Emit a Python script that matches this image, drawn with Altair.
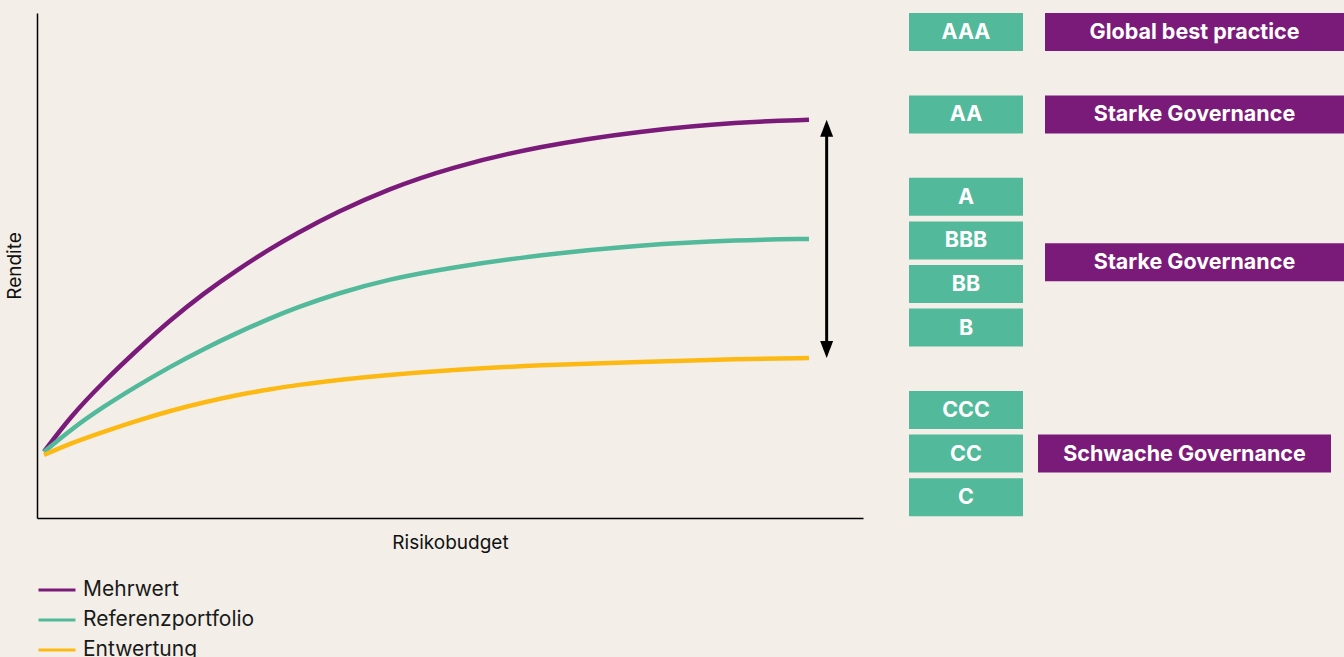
import altair as alt
import pandas as pd

# Risk budget positions (share of the axis, 0-100) at which the curves are sampled
risk = [0.85, 4.03, 8.07, 12.11, 16.14, 20.18, 24.21, 28.24, 31.48, 36.32,
        42.37, 50.0, 60.9, 73.0, 85.1, 93.46]
# Return for each scenario (share of the axis height, 0-100)
mehrwert = [13.13, 20.06, 26.99, 33.27, 39.21, 44.5, 49.11, 53.33, 56.4, 60.59,
            65.05, 69.41, 73.68, 76.65, 78.44, 78.85]
referenz = [13.07, 17.45, 22.08, 26.16, 29.98, 33.49, 36.65, 39.56, 41.68, 44.46,
            47.23, 49.6, 52.1, 54.08, 55.07, 55.27]
entwertung = [12.48, 14.79, 17.09, 19.27, 21.25, 22.91, 24.36, 25.49, 26.34, 27.33,
              28.32, 29.31, 30.3, 30.89, 31.49, 31.68]

series = ["Mehrwert", "Referenzportfolio", "Entwertung"]
series_colors = ["#7b1b79", "#52b99b", "#fdb913"]

# Governance ratings, grouped into the governance classes next to them
ratings = ["AAA", "AA", "A", "BBB", "BB", "B", "CCC", "CC", "C"]
rating_group = [0, 1, 2, 2, 2, 2, 3, 3, 3]
governance = ["Global best practice", "Starke Governance", "Starke Governance", "Schwache Governance"]

BG = "#f3efe8"
FONT = "Inter"
TEAL = "#52b99b"
PURPLE = "#7b1b79"

# ---- layout of the rating panel (panel pixel units along x, rating rows along y)
GROUP_GAP = 0.89        # extra rows left empty between two governance classes
BOX_HALF = 0.436        # half height of a box, in rows
RATING_COL = (0, 114)
GOV_COLS = [(136, 435), (136, 435), (136, 435), (129, 422)]
ARROW_X = 95.6

# ---------------------------------------------------------------- curves
curve_rows = []
for name, values in zip(series, [mehrwert, referenz, entwertung]):
    for x, y in zip(risk, values):
        curve_rows.append({"risk": x, "rendite": y, "series": name})
curves = pd.DataFrame(curve_rows)

x_scale = alt.Scale(domain=[0, 100], nice=False, zero=False)
y_scale = alt.Scale(domain=[0, 100], nice=False, zero=False)

x_axis = alt.Axis(title="Risikobudget", labels=False, ticks=False, grid=False,
                  domainColor="black", domainWidth=1.5, titlePadding=15,
                  titleFontSize=19, titleFontWeight="normal", titleFont=FONT,
                  titleColor="#111111")
y_axis = alt.Axis(title="Rendite", labels=False, ticks=False, grid=False,
                  domainColor="black", domainWidth=1.5, titlePadding=13,
                  titleFontSize=19, titleFontWeight="normal", titleFont=FONT,
                  titleColor="#111111")

lines = alt.Chart(curves).mark_line(strokeWidth=4.5, interpolate="basis").encode(
    x=alt.X("risk:Q", scale=x_scale, axis=x_axis),
    y=alt.Y("rendite:Q", scale=y_scale, axis=y_axis),
    color=alt.Color(
        "series:N",
        scale=alt.Scale(domain=series, range=series_colors),
        legend=alt.Legend(
            title=None, orient="none", legendX=0, legendY=557, direction="vertical",
            symbolType="stroke", symbolSize=1369, symbolStrokeWidth=3,
            labelFontSize=21, labelFont=FONT, labelColor="#1a1a1a", labelLimit=0,
            labelOffset=6, rowPadding=-1, padding=0,
        ),
    ),
)

# double arrow spanning the gap between the best and the worst outcome
arrow = pd.DataFrame([{"x": ARROW_X, "low": entwertung[-1], "high": mehrwert[-1]}])
shaft = alt.Chart(arrow).mark_rule(color="black", strokeWidth=3, yOffset=-12, y2Offset=12).encode(
    x=alt.X("x:Q", scale=x_scale),
    y=alt.Y("low:Q", scale=y_scale),
    y2="high:Q",
)
head_up = alt.Chart(arrow).mark_point(
    shape="M0,0L0.5,1.3L-0.5,1.3Z", size=676, filled=True, color="black", opacity=1
).encode(x=alt.X("x:Q", scale=x_scale), y=alt.Y("high:Q", scale=y_scale))
head_down = alt.Chart(arrow).mark_point(
    shape="M0,0L0.5,-1.3L-0.5,-1.3Z", size=676, filled=True, color="black", opacity=1
).encode(x=alt.X("x:Q", scale=x_scale), y=alt.Y("low:Q", scale=y_scale))

left = alt.layer(lines, shaft, head_up, head_down).properties(width=826, height=505)

# ---------------------------------------------------------------- rating panel
rating_rows = []
for i, (r, g) in enumerate(zip(ratings, rating_group)):
    row = i + GROUP_GAP * g
    rating_rows.append({"label": r, "x0": RATING_COL[0], "x1": RATING_COL[1],
                        "row": row, "top": row - BOX_HALF, "bottom": row + BOX_HALF})
boxes = pd.DataFrame(rating_rows)

gov_rows = []
for g, name in enumerate(governance):
    rows = [b["row"] for b in rating_rows if rating_group[ratings.index(b["label"])] == g]
    row = sum(rows) / len(rows)
    gov_rows.append({"label": name, "x0": GOV_COLS[g][0], "x1": GOV_COLS[g][1],
                     "row": row, "top": row - BOX_HALF, "bottom": row + BOX_HALF})
gov = pd.DataFrame(gov_rows)

px = alt.Scale(domain=[0, 435], nice=False, zero=False)
rows_scale = alt.Scale(domain=[-BOX_HALF, 11.147], nice=False, zero=False, reverse=True)


def box_layer(df, fill):
    rect = alt.Chart(df).mark_rect(color=fill).encode(
        x=alt.X("x0:Q", scale=px, axis=None),
        x2="x1:Q",
        y=alt.Y("top:Q", scale=rows_scale, axis=None),
        y2="bottom:Q",
    )
    text = alt.Chart(df).transform_calculate(mid="(datum.x0 + datum.x1) / 2").mark_text(
        color="white", font=FONT, fontSize=21.5, fontWeight="bold", baseline="middle", dy=1
    ).encode(
        x=alt.X("mid:Q", scale=px, axis=None),
        y=alt.Y("row:Q", scale=rows_scale, axis=None),
        text="label:N",
    )
    return rect + text


right = alt.layer(box_layer(boxes, TEAL), box_layer(gov, PURPLE)).properties(width=435, height=505)

chart = alt.hconcat(left, right, spacing=46).properties(
    background=BG,
    padding={"left": 5, "top": 13, "right": 0, "bottom": 0},
).configure_view(stroke=None)

chart.save("out.html", embed_options={"renderer": "svg", "actions": False})
